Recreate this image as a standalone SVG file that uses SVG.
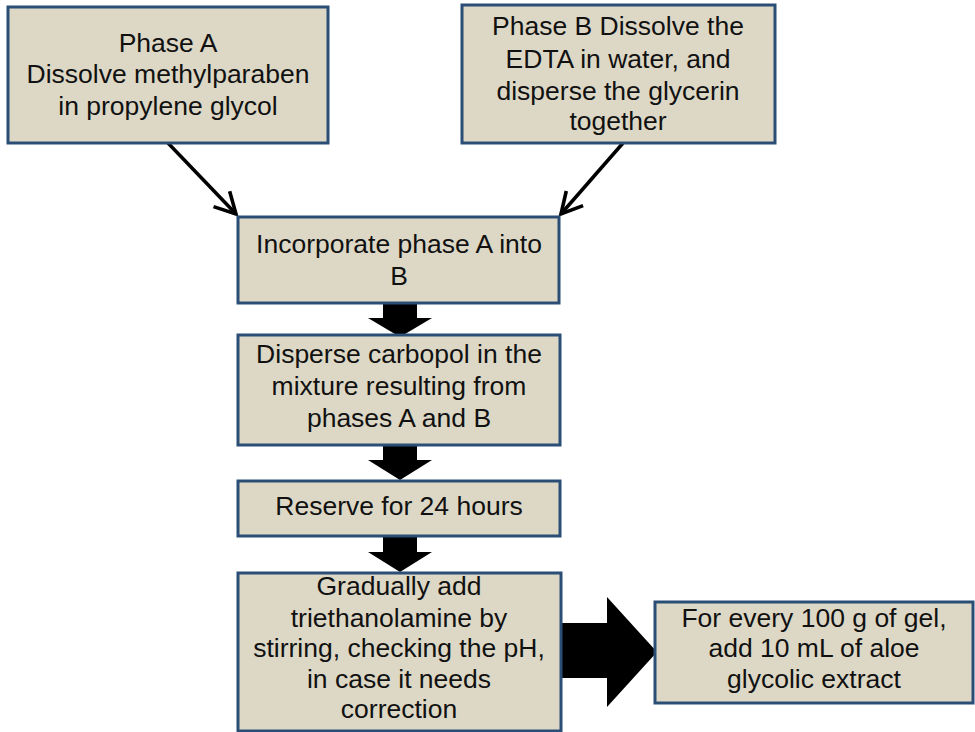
<svg xmlns="http://www.w3.org/2000/svg" width="975" height="732" viewBox="0 0 975 732">
<defs>
<marker id="vee" viewBox="0 0 20 20" refX="18" refY="10" markerWidth="8.5" markerHeight="8.5" markerUnits="strokeWidth" orient="auto">
<polyline points="4,2.5 18,10 4,17.5" fill="none" stroke="#000" stroke-width="2.4" stroke-linejoin="miter"/>
</marker>
</defs>
<style>
.box{fill:#DDD8C6;stroke:#2B4E77;stroke-width:3}
.t{font-family:"Liberation Sans",Arial,sans-serif;font-size:26.5px;fill:#111;text-anchor:middle}
.thin{stroke:#000;stroke-width:3.5;fill:none}
.fat{fill:#000;stroke:none}
</style>
<rect width="975" height="732" fill="#fff"/>
<g id="connectors">
<line class="thin" x1="168" y1="143" x2="236" y2="214" marker-end="url(#vee)"/>
<line class="thin" x1="623" y1="143" x2="561" y2="214" marker-end="url(#vee)"/>
<polygon class="fat" points="383,303 417,303 417,318 432,318 400,337 368,318 383,318"/>
<polygon class="fat" points="383,446 417,446 417,460 432,460 400,480 368,460 383,460"/>
<polygon class="fat" points="383,537 417,537 417,552 432,552 400,572 368,552 383,552"/>
<polygon class="fat" points="561,623 607,623 607,597 657,652 607,707 607,678 561,678"/>
</g>
<g id="phaseA">
<rect class="box" x="8" y="7" width="320" height="136"/>
<text class="t" x="168" y="52">Phase A</text>
<text class="t" x="168" y="83">Dissolve methylparaben</text>
<text class="t" x="168" y="115">in propylene glycol</text>
</g>
<g id="phaseB">
<rect class="box" x="462" y="5" width="313" height="138"/>
<text class="t" x="618" y="35">Phase B Dissolve the</text>
<text class="t" x="618" y="68">EDTA in water, and</text>
<text class="t" x="618" y="100">disperse the glycerin</text>
<text class="t" x="618" y="130">together</text>
</g>
<g id="incorporate">
<rect class="box" x="238" y="217" width="321" height="86"/>
<text class="t" x="399" y="253">Incorporate phase A into</text>
<text class="t" x="399" y="285">B</text>
</g>
<g id="disperse">
<rect class="box" x="238" y="335" width="322" height="110"/>
<text class="t" x="399" y="363">Disperse carbopol in the</text>
<text class="t" x="399" y="395">mixture resulting from</text>
<text class="t" x="399" y="427">phases A and B</text>
</g>
<g id="reserve">
<rect class="box" x="238" y="481" width="322" height="55"/>
<text class="t" x="399" y="515">Reserve for 24 hours</text>
</g>
<g id="gradually">
<rect class="box" x="238" y="573" width="323" height="158"/>
<text class="t" x="399" y="595">Gradually add</text>
<text class="t" x="399" y="627">triethanolamine by</text>
<text class="t" x="399" y="657">stirring, checking the pH,</text>
<text class="t" x="399" y="688">in case it needs</text>
<text class="t" x="399" y="718">correction</text>
</g>
<g id="aloe">
<rect class="box" x="655" y="602" width="318" height="101"/>
<text class="t" x="814" y="627">For every 100 g of gel,</text>
<text class="t" x="814" y="657">add 10 mL of aloe</text>
<text class="t" x="814" y="688">glycolic extract</text>
</g>
</svg>
